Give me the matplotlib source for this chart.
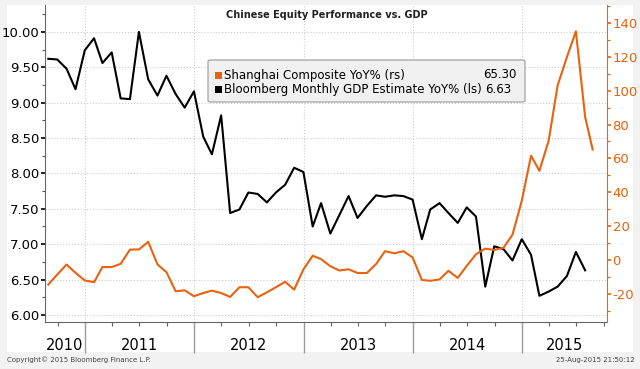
import numpy as np
import pandas as pd
import matplotlib.pyplot as plt
import matplotlib.dates as mdates
from matplotlib.patches import Rectangle, FancyBboxPatch
from matplotlib.ticker import MultipleLocator

# month-end dates Aug 2010 .. Jul 2015, plus the 25-Aug-2015 print for the index
months = pd.date_range("2010-08-31", "2015-07-31", freq="ME")

gdp = [9.62, 9.61, 9.48, 9.19, 9.74,
       9.91, 9.56, 9.71, 9.06, 9.05, 10.00, 9.33, 9.10, 9.38, 9.12, 8.93, 9.16,
       8.52, 8.27, 8.82, 7.44, 7.49, 7.73, 7.71, 7.59, 7.73, 7.84, 8.08, 8.02,
       7.25, 7.58, 7.15, 7.41, 7.68, 7.37, 7.54, 7.69, 7.67, 7.69, 7.68, 7.63,
       7.07, 7.49, 7.58, 7.44, 7.30, 7.52, 7.39, 6.40, 6.97, 6.93, 6.77, 7.07,
       6.85, 6.27, 6.33, 6.40, 6.55, 6.89, 6.63]

shcomp = [-14.4, -8.5, -2.6, -7.5, -12.0,
          -13.0, -4.1, -4.1, -2.2, 6.2, 6.3, 10.8, -2.5, -7.1, -18.4, -17.8, -21.3,
          -19.4, -18.0, -19.4, -21.7, -16.0, -16.0, -21.9, -19.0, -16.0, -12.8, -17.4, -5.5,
          2.6, 0.6, -3.6, -6.1, -5.4, -7.6, -7.6, -2.3, 5.3, 4.0, 5.3, 1.6,
          -11.7, -12.2, -11.4, -6.3, -10.5, -3.4, 3.5, 6.8, 6.0, 7.3, 15.0, 35.0,
          61.6, 52.7, 70.5, 103.1, 119.8, 135.0, 84.3, 65.3]
sh_dates = list(months) + [pd.Timestamp("2015-08-25")]

years = [2010, 2011, 2012, 2013, 2014, 2015]
orange = "#e8620f"
W, H = 640, 369


def fx(px):
    return px / W


def fy(py):
    return 1 - py / H


fig = plt.figure(figsize=(6.4, 3.69), dpi=100, facecolor="#f2f2f2")
fig.patches.append(Rectangle((fx(7), fy(352)), fx(626), 347 / H,
                             transform=fig.transFigure, facecolor="white",
                             edgecolor="none", zorder=-10))

ax = fig.add_axes([fx(45), fy(322), fx(562), 317 / H])
ax.set_facecolor("white")
ax2 = ax.twinx()

ax.plot(months, gdp, color="black", lw=1.5, zorder=3)
ax2.plot(sh_dates, shcomp, color=orange, lw=1.5, zorder=3)

xmin, xmax = pd.Timestamp("2010-08-20"), pd.Timestamp("2015-10-12")
ax.set_xlim(xmin, xmax)
ax.set_ylim(5.90, 10.38)
ax2.set_ylim(-36.5, 150.5)

# left axis
ax.yaxis.set_major_locator(MultipleLocator(0.5))
ax.yaxis.set_minor_locator(MultipleLocator(0.25))
ax.yaxis.set_major_formatter(lambda v, p: f"{v:.2f}")
ax.tick_params(axis="y", which="major", length=3, width=1.2, labelsize=9.5,
               colors="black", pad=1)
ax.tick_params(axis="y", which="minor", length=2, width=0.8, color="#555555")

# right axis
ax2.yaxis.set_major_locator(MultipleLocator(20))
ax2.yaxis.set_minor_locator(MultipleLocator(10))
ax2.yaxis.set_major_formatter(lambda v, p: f"{v:.0f}")
ax2.tick_params(axis="y", which="major", length=3, width=1.2, labelsize=9.5,
                colors=orange, pad=1)
ax2.tick_params(axis="y", which="minor", length=2, width=0.8, color=orange)

for a in (ax, ax2):
    a.spines["top"].set_visible(False)
ax.spines["right"].set_visible(False)
ax2.spines["left"].set_visible(False)
ax2.spines["right"].set_color(orange)
ax2.spines["bottom"].set_visible(False)
ax.spines["left"].set_color("#666666")
ax.spines["bottom"].set_color("#666666")

# x axis: long separators at year starts, small quarterly ticks
year_starts = [pd.Timestamp(f"{y}-01-01") for y in years[1:]]
ax.set_xticks(year_starts)
ax.set_xticklabels([])
ax.xaxis.set_minor_locator(mdates.MonthLocator(bymonth=[1, 4, 7, 10]))
ax.tick_params(axis="x", which="major", length=22, width=1, color="#999999")
ax.tick_params(axis="x", which="minor", length=3, width=0.8, color="#666666")

# grid
ax.grid(axis="y", which="major", color="#cccccc", ls=":", lw=0.8)
ax.grid(axis="x", which="major", color="#cccccc", ls=":", lw=0.8)
ax.set_axisbelow(True)

# year labels centred in visible part of each year
for y in years:
    a = max(pd.Timestamp(f"{y}-01-01"), xmin)
    b = min(pd.Timestamp(f"{y + 1}-01-01"), xmax)
    mid = a + (b - a) / 2
    ax.text(mdates.date2num(mid), -0.075, str(y), transform=ax.get_xaxis_transform(),
            ha="center", va="center", fontsize=10.5, color="black")

fig.text(fx(327), fy(15), "Chinese Equity Performance vs. GDP", fontsize=7,
         fontweight="bold", ha="center", va="center", color="#222222")

# legend box
fig.patches.append(FancyBboxPatch((fx(208), fy(102)), fx(317), 42 / H,
                                  boxstyle="round,pad=0,rounding_size=0.004",
                                  transform=fig.transFigure, facecolor="#f0f0f0",
                                  edgecolor="#999999", lw=0.8, zorder=5))
rows = [("Shanghai Composite YoY% (rs)", orange, 75),
        ("Bloomberg Monthly GDP Estimate YoY% (ls)", "black", 89.5)]
for label, col, ypx in rows:
    fig.patches.append(Rectangle((fx(214.5), fy(ypx + 3.5)), fx(7), 7 / H,
                                 transform=fig.transFigure, facecolor=col,
                                 edgecolor="none", zorder=6))
    fig.text(fx(224), fy(ypx), label, fontsize=8.5, va="center", ha="left",
             color="black", zorder=7)
fig.text(fx(517), fy(75), "65.30", fontsize=8.5, va="center", ha="right", zorder=7)
fig.text(fx(511), fy(89.5), "6.63", fontsize=8.5, va="center", ha="right", zorder=7)

fig.text(fx(7), fy(360), "Copyright\u00a9 2015 Bloomberg Finance L.P.", fontsize=5,
         color="#444444", va="center", ha="left")
fig.text(fx(635), fy(360), "25-Aug-2015 21:50:12", fontsize=5,
         color="#444444", va="center", ha="right")

fig.savefig("out.png", dpi=100, facecolor=fig.get_facecolor())
